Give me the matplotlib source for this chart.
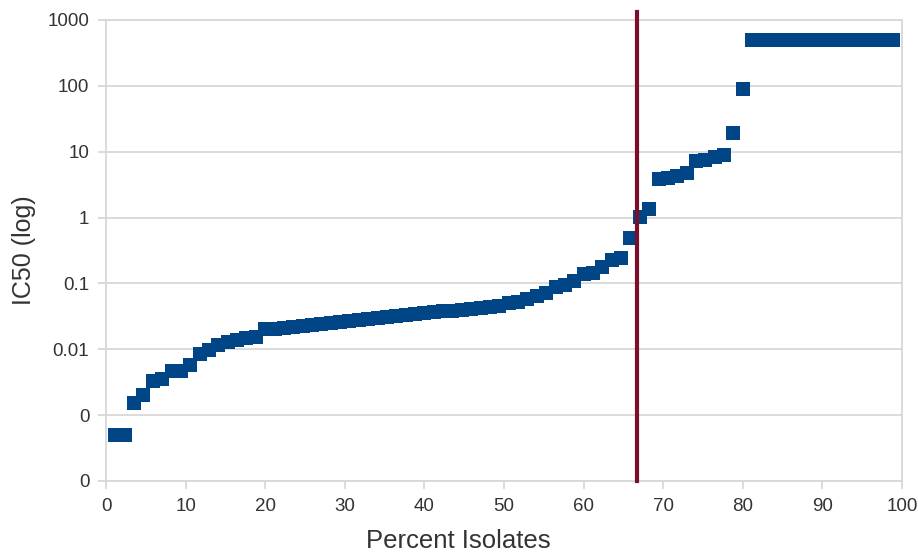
import numpy as np
import matplotlib
matplotlib.use('Agg')
import matplotlib.pyplot as plt
from matplotlib.ticker import FixedLocator, FixedFormatter

plt.rcParams['font.family'] = ['Liberation Sans', 'DejaVu Sans']

# IC50 values of the isolates, sorted
ic50 = [0.0005, 0.0005, 0.00154, 0.00204, 0.0033, 0.0036, 0.0046, 0.0046,
        0.0058, 0.0086, 0.0099, 0.0117, 0.0130, 0.0140, 0.0150, 0.0155,
        0.0200, 0.0205, 0.0210, 0.0215, 0.0222, 0.0230, 0.0240, 0.0250,
        0.0260, 0.0270, 0.0280, 0.0290, 0.0300, 0.0310, 0.0320, 0.0335,
        0.0345, 0.0355, 0.0365, 0.0375, 0.0385, 0.0395, 0.0410, 0.0425,
        0.0440, 0.0460, 0.0500, 0.0530, 0.0580, 0.0650, 0.0710, 0.0880,
        0.0960, 0.1080, 0.1400, 0.1450, 0.1800, 0.2300, 0.2400, 0.4900,
        1.03, 1.35, 3.85, 4.0, 4.3, 4.8, 7.3, 7.4, 8.4, 9.0, 19.0, 90.0,
        500, 500, 500, 500, 500, 500, 500, 500,
        500, 500, 500, 500, 500, 500, 500, 500]
n_isolates = len(ic50)
# percent of isolates for each rank
percent = [100.0 * (k + 1) / (n_isolates + 1) for k in range(n_isolates)]

cutoff = 66.7
ytick_vals = [1e-4, 1e-3, 1e-2, 1e-1, 1, 10, 100, 1000]
ytick_labels = ['0', '0', '0.01', '0.1', '1', '10', '100', '1000']
xtick_vals = [0, 10, 20, 30, 40, 50, 60, 70, 80, 90, 100]

fig = plt.figure(figsize=(9.18, 5.56), dpi=100)
ax = fig.add_axes([106/918, 1 - 481/556, (902-106)/918, (481-20)/556])

ax.plot(percent, ic50, 's', color='#004586', ms=9.7, mew=0, zorder=3)
ax.axvline(cutoff, ymin=0, ymax=1.017, color='#7a0f2b', lw=3, clip_on=False, zorder=4)

ax.set_yscale('log')
ax.set_ylim(1e-4, 1000)
ax.set_xlim(0, 100)
ax.yaxis.set_major_locator(FixedLocator(ytick_vals))
ax.yaxis.set_major_formatter(FixedFormatter(ytick_labels))
ax.yaxis.set_minor_locator(FixedLocator([]))
ax.set_xticks(xtick_vals)

ax.grid(axis='y', color='#d8d8d8', lw=1.3)
ax.set_axisbelow(True)
for s in ax.spines.values():
    s.set_color('#d8d8d8')
    s.set_linewidth(1.3)
ax.tick_params(length=6, width=1.3, color='#d8d8d8', labelsize=13.5,
               labelcolor='#333333', pad=6)

ax.set_xlabel('Percent Isolates', fontsize=18.5, color='#333333', labelpad=4)
ax.xaxis.set_label_coords(0.442, -0.105)
ax.set_ylabel('IC50 (log)', fontsize=18, color='#333333', labelpad=8)

fig.savefig('out.png', dpi=100)
